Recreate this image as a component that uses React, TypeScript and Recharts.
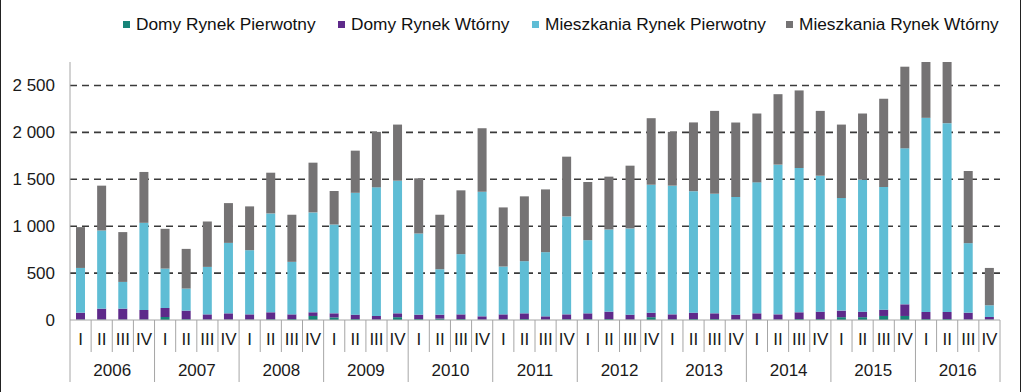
import React from 'react';
import { BarChart, Bar, XAxis, YAxis, CartesianGrid } from 'recharts';

const years = ['2006', '2007', '2008', '2009', '2010', '2011', '2012', '2013', '2014', '2015', '2016'];
const quarterLabels = ['I', 'II', 'III', 'IV'];

const domyPierwotny = [
  5, 5, 5, 5, 32, 8, 5, 5, 5, 8, 10, 43, 28, 10, 5, 30, 10, 15, 10, 5, 8, 10,
  5, 8, 8, 10, 5, 30, 8, 10, 10, 5, 8, 5, 10, 10, 30, 30, 43, 43, 10, 10, 5, 5,
];
const domyWtorny = [
  73, 116, 116, 102, 96, 92, 55, 66, 55, 74, 50, 39, 43, 47, 38, 41, 47, 42, 50, 34, 52, 61,
  34, 52, 63, 79, 52, 48, 52, 68, 61, 52, 63, 55, 72, 79, 70, 59, 67, 124, 75, 75, 73, 27,
];
const mieszkaniaPierwotny = [
  477, 833, 285, 929, 420, 235, 506, 751, 684, 1054, 560, 1065, 947, 1299, 1371, 1414, 865, 484, 642, 1328, 510, 556,
  684, 1044, 780, 876, 919, 1364, 1372, 1295, 1275, 1254, 1396, 1596, 1538, 1449, 1200, 1407, 1308, 1663, 2070, 2013, 741, 125,
];
const mieszkaniaWtorny = [
  435, 478, 531, 542, 424, 423, 484, 424, 467, 434, 502, 530, 357, 449, 591, 598, 588, 581, 680, 677, 630, 691,
  669, 637, 620, 563, 669, 709, 573, 733, 883, 794, 734, 751, 827, 691, 783, 705, 940, 870, 795, 802, 769, 398,
];
const yTicks = [0, 500, 1000, 1500, 2000, 2500];

const SERIES = [
  { key: 'dp', name: 'Domy Rynek Pierwotny', color: '#178478' },
  { key: 'dw', name: 'Domy Rynek Wtórny', color: '#5e2a8a' },
  { key: 'mp', name: 'Mieszkania Rynek Pierwotny', color: '#5fbdd5' },
  { key: 'mw', name: 'Mieszkania Rynek Wtórny', color: '#757374' },
];
const LEGEND_X = [123, 338, 532, 786];

const data = domyPierwotny.map((v, i) => ({
  id: `${years[Math.floor(i / 4)]}-${quarterLabels[i % 4]}`,
  q: quarterLabels[i % 4],
  year: years[Math.floor(i / 4)],
  dp: v,
  dw: domyWtorny[i],
  mp: mieszkaniaPierwotny[i],
  mw: mieszkaniaWtorny[i],
}));

const FONT = '"Liberation Sans", Arial, sans-serif';
const N = data.length;
const PLOT_LEFT = 70;
const PLOT_RIGHT_MARGIN = 23;
const WIDTH = 1023;
const HEIGHT = 392;

const fmt = (v: number) => {
  const s = String(v);
  return s.length > 3 ? s.slice(0, s.length - 3) + ' ' + s.slice(-3) : s;
};

const QuarterTick = (props: any) => {
  const { x, y, payload, index } = props;
  const band = (WIDTH - PLOT_LEFT - PLOT_RIGHT_MARGIN) / N;
  const half = payload && typeof payload.offset === 'number' && payload.offset > 0 ? payload.offset : band / 2;
  const i = typeof index === 'number' ? index : payload.index;
  const d = data[i];
  const isYearEnd = i % 4 === 3;
  const lineColor = '#a6a6a6';
  return (
    <g>
      {i === 0 && (
        <line x1={x - half} x2={x - half} y1={y} y2={y + 62} stroke={lineColor} strokeWidth={1} />
      )}
      <line x1={x + half} x2={x + half} y1={y} y2={y + (isYearEnd ? 62 : 32)} stroke={lineColor} strokeWidth={1} />
      <text x={x} y={y + 21} textAnchor="middle" dominantBaseline="middle" fontSize={17} fontFamily={FONT} fill="#1a1a1a">
        {d ? d.q : ''}
      </text>
      {i % 4 === 1 && d && (
        <text x={x + half} y={y + 52} textAnchor="middle" dominantBaseline="middle" fontSize={17} fontFamily={FONT} fill="#1a1a1a">
          {d.year}
        </text>
      )}
    </g>
  );
};

export default function App() {
  return (
    <div style={{ position: 'absolute', left: 0, top: 0, width: WIDTH, height: HEIGHT, background: '#fff' }}>
      <BarChart
        width={WIDTH}
        height={HEIGHT}
        data={data}
        margin={{ top: 62, right: PLOT_RIGHT_MARGIN, bottom: 0, left: 0 }}
        barCategoryGap={0}
      >
        <CartesianGrid
          horizontal
          vertical={false}
          stroke="#3a3a3a"
          strokeWidth={1.6}
          strokeDasharray="7 5"
          horizontalValues={[500, 1000, 1500, 2000, 2500]}
        />
        <XAxis
          dataKey="id"
          interval={0}
          height={72}
          tickLine={false}
          tickSize={0}
          tickMargin={0}
          axisLine={{ stroke: '#a6a6a6', strokeWidth: 1 }}
          tick={<QuarterTick />}
        />
        <YAxis
          width={70}
          domain={[0, 2750]}
          allowDataOverflow
          ticks={yTicks}
          interval={0}
          tickLine={false}
          tickSize={0}
          tickMargin={15}
          tickFormatter={fmt}
          axisLine={{ stroke: '#a6a6a6', strokeWidth: 1 }}
          tick={{ fontSize: 17, fontFamily: FONT, fill: '#1a1a1a' }}
        />
        {SERIES.map((s) => (
          <Bar key={s.key} dataKey={s.key} name={s.name} stackId="a" fill={s.color} barSize={9} isAnimationActive={false} />
        ))}
      </BarChart>
      {SERIES.map((s, i) => (
        <div
          key={s.key}
          style={{
            position: 'absolute',
            left: LEGEND_X[i],
            top: 13,
            display: 'flex',
            alignItems: 'center',
            fontFamily: FONT,
            fontSize: '17.3px',
            lineHeight: '22px',
            color: '#111',
            whiteSpace: 'nowrap',
          }}
        >
          <span style={{ display: 'inline-block', width: 7, height: 7, background: s.color, marginRight: 6 }} />
          <span>{s.name}</span>
        </div>
      ))}
      <div style={{ position: 'absolute', left: 0, top: 0, width: 1, height: HEIGHT, background: '#222' }} />
      <div style={{ position: 'absolute', left: 1020, top: 0, width: 1, height: HEIGHT, background: '#222' }} />
    </div>
  );
}
